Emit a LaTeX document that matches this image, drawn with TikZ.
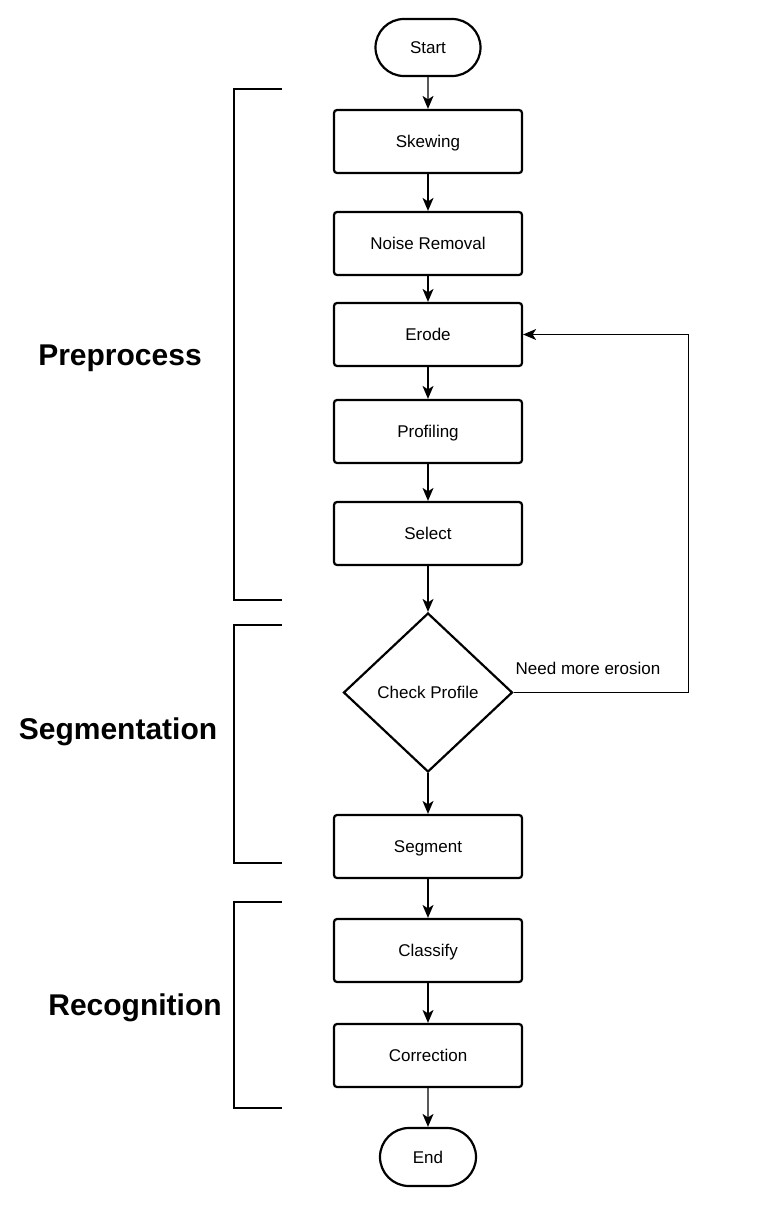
\documentclass[tikz,border=0pt]{standalone}
\usepackage{fontspec}
\setmainfont{Liberation Sans}
\usetikzlibrary{shapes.geometric,shapes.misc,arrows.meta}

\begin{document}
\begin{tikzpicture}[x=1pt,y=-1pt,
  every node/.style={font=\fontsize{17}{20}\selectfont},
  box/.style={draw,line width=2.2pt,inner sep=0pt,text height=12pt,text depth=0pt},
  proc/.style={box,rounded corners=3pt,minimum width=188pt,minimum height=63pt},
  term/.style={box,rounded rectangle,minimum height=57pt},
  cond/.style={box,diamond,minimum width=169pt,minimum height=159pt},
  stage/.style={font=\fontsize{30}{35}\selectfont\bfseries},
  flow/.style={line width=1.3pt,-{Stealth[length=13pt,width=11pt,inset=3.5pt]}},
  brace/.style={line width=2.2pt}]
\useasboundingbox (0,0) rectangle (771,1206);
\node[term,minimum width=105pt] (start) at (428,47.5) {Start};
\node[proc] (skew) at (428,141.5) {Skewing};
\node[proc] (noise) at (428,243.5) {Noise Removal};
\node[proc] (erode) at (428,334.5) {Erode};
\node[proc] (prof) at (428,431.5) {Profiling};
\node[proc] (sel) at (428,533.5) {Select};
\node[cond] (check) at (428,692.5) {Check Profile};
\node[proc] (seg) at (428,846.5) {Segment};
\node[proc] (cls) at (428,950.5) {Classify};
\node[proc] (corr) at (428,1055.5) {Correction};
\node[term,minimum width=96pt,minimum height=58pt] (end) at (428,1157) {End};

\draw[flow] (start) -- (skew);
\draw[flow] (skew) -- (noise);
\draw[flow] (noise) -- (erode);
\draw[flow] (erode) -- (prof);
\draw[flow] (prof) -- (sel);
\draw[flow] (sel) -- (check);
\draw[flow] (check) -- (seg);
\draw[flow] (seg) -- (cls);
\draw[flow] (cls) -- (corr);
\draw[flow] (corr) -- (end);
\coordinate (loop) at (688,692.5);
\draw[flow,line width=1pt] (check.east) -- (loop) |- (erode.east);
\node (more) at (588,668) {Need more erosion};

% stage brackets
\draw[brace] (282,89) -- (234,89) -- (234,600) -- (282,600);
\draw[brace] (282,625) -- (234,625) -- (234,863) -- (282,863);
\draw[brace] (282,902) -- (234,902) -- (234,1108) -- (282,1108);
\node[stage] (pre) at (120,358) {Preprocess};
\node[stage] (segm) at (118,732) {Segmentation};
\node[stage] (rec) at (135,1008) {Recognition};
\end{tikzpicture}
\end{document}
